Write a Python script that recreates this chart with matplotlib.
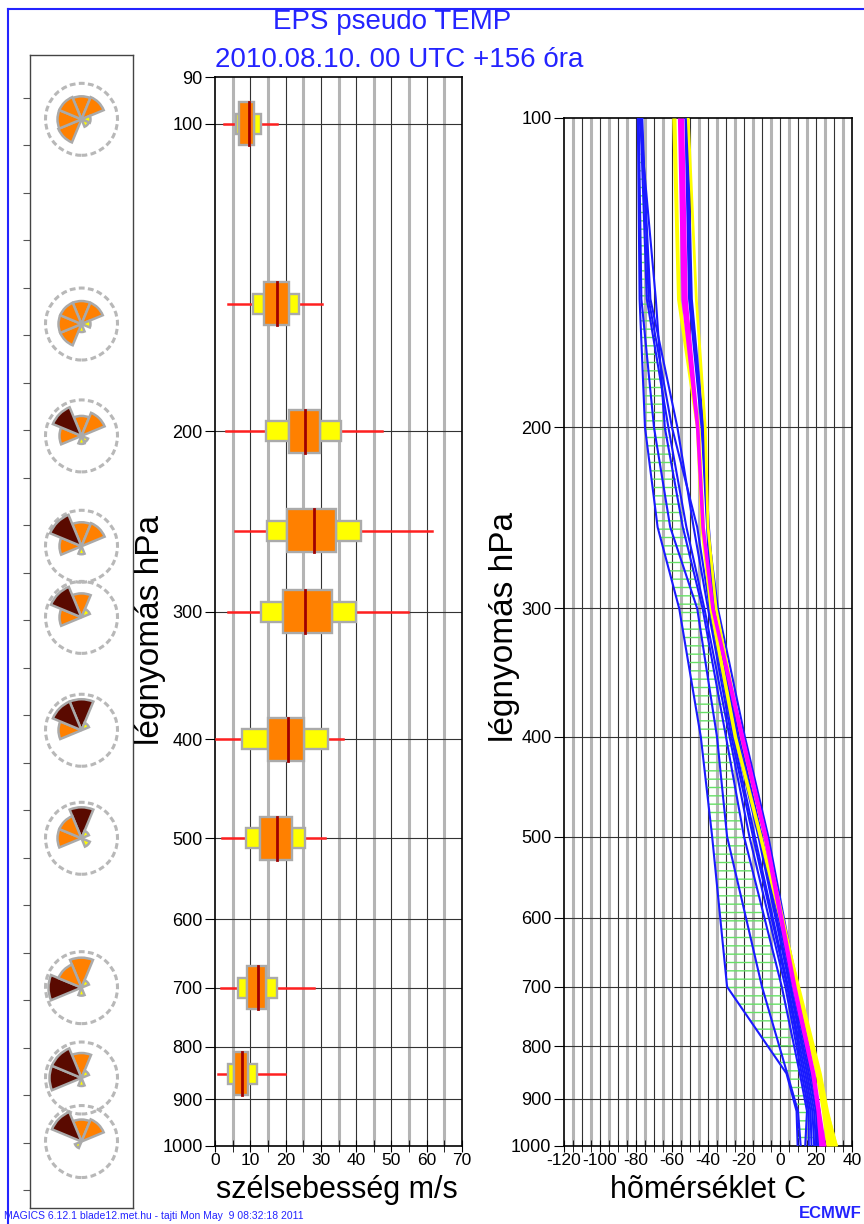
import numpy as np
import matplotlib.pyplot as plt
from matplotlib.patches import Rectangle, Wedge, Circle
from matplotlib.lines import Line2D

plt.rcParams['font.family'] = ['Liberation Sans', 'DejaVu Sans']
plt.rcParams['hatch.linewidth'] = 1.0
plt.rcParams['axes.unicode_minus'] = False

# --- wind roses (left panel) ---
rose_levels = [99, 157, 202, 259, 304, 392, 500, 700, 858, 990]
rose_dirs = [0, 45, 90, 135, 180, 225, 270, 315]   # N NE E SE S SW W NW
rose_len = [
    [23, 24, 9, 8, 0, 25, 24, 24],
    [23, 23, 9, 0, 8, 23, 23, 23],
    [20, 25, 0, 7, 8, 0, 22, 31],
    [24, 25, 0, 0, 8, 0, 22, 34],
    [24, 9, 0, 0, 0, 0, 22, 33],
    [31, 8, 0, 0, 0, 0, 23, 31],
    [31, 8, 0, 9, 0, 0, 24, 24],
    [30, 8, 0, 0, 8, 0, 33, 25],
    [25, 8, 0, 0, 8, 0, 32, 32],
    [22, 24, 0, 0, 0, 7, 0, 32],
]
rose_cls = ['ooyy-ooo', 'ooy-yooo', 'oo-yy-ob', 'oo--y-ob', 'oy----ob',
            'by----ob', 'by-y--oo', 'oy--y-bo', 'oy--y-bb', 'oo---y-b']
rose_ring = 36

# --- wind speed quantiles (middle panel) ---
wind_levels = [100, 150, 200, 250, 300, 400, 500, 700, 850]
w_min = [2.5, 3.7, 3.0, 5.7, 3.6, 0.3, 2.0, 1.6, 0.8]
w_p10 = [5.9, 10.8, 14.5, 14.8, 12.9, 7.7, 8.8, 6.5, 3.7]
w_p25 = [6.9, 13.9, 21.1, 20.4, 19.4, 15.0, 12.8, 9.0, 5.4]
w_med = [9.6, 17.5, 25.6, 28.0, 25.6, 20.8, 17.5, 12.2, 7.6]
w_p75 = [11.1, 21.0, 29.8, 34.2, 33.2, 25.2, 21.8, 14.5, 9.4]
w_p90 = [13.0, 23.8, 35.7, 41.4, 40.1, 32.0, 25.5, 17.5, 11.8]
w_max = [17.5, 30.3, 47.2, 61.4, 54.8, 36.3, 31.2, 28.0, 19.8]

# --- temperature profiles (right panel) ---
t_levels = [100, 150, 200, 250, 300, 400, 500, 700, 850, 925, 1000]
t_members = [
    [-79.0, -78.0, -75.0, -68.0, -56.0, -44.0, -37.7, -29.4, 3.6, 9.2, 9.8],
    [-78.5, -77.0, -70.0, -61.0, -46.0, -35.0, -29.4, -10.0, 4.0, 10.0, 11.5],
    [-78.0, -69.0, -64.0, -54.0, -43.0, -30.0, -20.0, 1.0, 11.0, 15.0, 14.0],
    [-77.5, -74.0, -62.0, -52.0, -42.0, -28.0, -17.0, 3.0, 12.0, 16.0, 16.0],
    [-77.0, -72.0, -57.0, -48.0, -40.0, -27.0, -15.0, 4.0, 13.0, 17.0, 17.5],
    [-76.5, -73.0, -60.0, -46.0, -39.0, -26.0, -14.0, 4.5, 14.0, 18.0, 19.0],
    [-52.5, -50.5, -43.5, -40.5, -38.0, -25.0, -12.0, 5.5, 15.0, 19.0, 20.0],
    [-52.0, -49.5, -43.0, -40.0, -37.0, -23.5, -11.0, 6.0, 16.0, 20.0, 21.0],
    [-51.5, -49.0, -42.5, -39.5, -36.0, -22.5, -10.0, 7.0, 17.0, 21.0, 22.0],
    [-52.2, -50.0, -43.2, -40.2, -34.5, -19.5, -6.5, 9.5, 18.5, 22.0, 21.0],
]
hatch_hi = [-79, -72, -63, -53, -44, -28, -21, 2, 11, 16, 19]
mag_lo = [-57, -55, -47, -44, -38.5, -22.5, -9.5, 6.5, 17, 20, 21.5]
mag_hi = [-53.5, -51.5, -45, -42, -36.5, -20, -7, 9, 19.5, 22.5, 25.5]
yel_lo = [-60.2, -57.5, -47.0, -44.5, -39.5, -26, -12, 8.5, 19.5, 23, 25.5]
yel_hi = [-57.8, -55.5, -44.5, -42, -37.5, -24, -10, 11, 23, 27, 31.8]
yel_line = [-51.0, -46.5, -41.5, -40.0, -35.5, -21.5, -8.5, 10.0, 21.0, 26.0, 31.5]

p_ticks = [100, 200, 300, 400, 500, 600, 700, 800, 900, 1000]

W, H = 864, 1224
BLUE = '#2424ff'
GRAY = '#b4b4b4'
EDGE = '#aaaaaa'
COLS = {'y': '#ffff00', 'o': '#ff8000', 'b': '#5a0a00'}


def fbox(x0, y0, x1, y1):
    return [x0 / W, 1 - y1 / H, (x1 - x0) / W, (y1 - y0) / H]


fig = plt.figure(figsize=(W / 100, H / 100), dpi=100)
ax_r = fig.add_axes(fbox(30, 55, 133, 1208))
ax_w = fig.add_axes(fbox(215, 77, 462, 1146))
ax_t = fig.add_axes(fbox(564, 118, 852, 1146))

# ln(p) units per pixel, shared by all panels
k = np.log(1000 / 90) / (1146 - 77)

# ---- left panel: roses ----
ax_r.set_xlim(0, 103 * k)
ax_r.set_ylim(-(np.log(1000) + (1208 - 1146) * k), -(np.log(90) - (77 - 55) * k))
cx = 51.5 * k
for lev, lens, cls in zip(rose_levels, rose_len, rose_cls):
    cy = -np.log(lev)
    ax_r.add_patch(Circle((cx, cy), rose_ring * k, fill=False, ec='#b8b8b8', lw=2.2,
                          ls=(0, (1.9, 1.1))))
    for d, ln_, c in zip(rose_dirs, lens, cls):
        if c == '-':
            continue
        th = 90 - d
        ax_r.add_patch(Wedge((cx, cy), ln_ * k, th - 22.5, th + 22.5,
                             fc=COLS[c], ec=EDGE, lw=1.8))
ax_r.set_xticks([])
tick_px = np.linspace(98, 1190, 24)
ax_r.set_yticks(-(np.log(90) + (tick_px - 77) * k))
ax_r.set_yticklabels([])
ax_r.tick_params(axis='y', direction='out', length=5, color='#555555')
for s in ax_r.spines.values():
    s.set_color('#444444')
    s.set_linewidth(1)

# ---- middle panel: wind speed ----
ax_w.set_yscale('log')
ax_w.set_ylim(1000, 90)
ax_w.set_xlim(0, 70)
ax_w.set_yticks([90] + p_ticks)
ax_w.set_yticklabels([str(p) for p in [90] + p_ticks])
ax_w.yaxis.set_minor_locator(plt.NullLocator())
ax_w.set_xticks(np.arange(0, 71, 10))
ax_w.set_xticks(np.arange(0, 71, 5), minor=True)
ax_w.tick_params(axis='y', direction='out', length=7, labelsize=13, pad=2)
ax_w.tick_params(axis='x', which='both', direction='inout', length=8, labelsize=12.5, pad=1)
for x in range(5, 70, 10):
    ax_w.axvline(x, color=GRAY, lw=2.2, zorder=1)
for x in range(10, 70, 10):
    ax_w.axvline(x, color='#333333', lw=0.8, zorder=1)
for p in p_ticks[:-1]:
    ax_w.axhline(p, color='#333333', lw=0.8, zorder=1)

fo = np.exp(21.5 * k)
fy = np.exp(10 * k)
for i, p in enumerate(wind_levels):
    ax_w.plot([w_min[i], w_max[i]], [p, p], color='#ff2020', lw=1.8, zorder=3)
    for a, b in [(w_p10[i], w_p25[i]), (w_p75[i], w_p90[i])]:
        ax_w.add_patch(Rectangle((a, p / fy), b - a, p * fy - p / fy,
                                 fc='#ffff00', ec=EDGE, lw=1.7, zorder=4))
    ax_w.add_patch(Rectangle((w_p25[i], p / fo), w_p75[i] - w_p25[i], p * fo - p / fo,
                             fc='#ff8000', ec=EDGE, lw=1.7, zorder=5))
    ax_w.plot([w_med[i], w_med[i]], [p / fo, p * fo], color='#a00000', lw=2, zorder=6)
for s in ax_w.spines.values():
    s.set_linewidth(1.2)

# ---- right panel: temperature ----
ax_t.set_yscale('log')
ax_t.set_ylim(1000, 100)
ax_t.set_xlim(-120, 40)
ax_t.set_yticks(p_ticks)
ax_t.set_yticklabels([str(p) for p in p_ticks])
ax_t.yaxis.set_minor_locator(plt.NullLocator())
ax_t.set_xticks(np.arange(-120, 41, 20))
ax_t.set_xticks(np.arange(-120, 41, 5), minor=True)
ax_t.tick_params(axis='y', direction='out', length=7, labelsize=13, pad=2)
ax_t.tick_params(axis='x', which='both', direction='inout', length=8, labelsize=12.5, pad=1)
for x in range(-115, 40, 10):
    ax_t.axvline(x, color=GRAY, lw=2.2, zorder=1)
for x in range(-110, 40, 10):
    ax_t.axvline(x, color='#333333', lw=0.8, zorder=1)
for p in p_ticks[1:-1]:
    ax_t.axhline(p, color='#333333', lw=0.8, zorder=1)

ax_t.fill_betweenx(t_levels, t_members[0], hatch_hi, facecolor='none',
                   edgecolor='#66e066', hatch='--', lw=0, zorder=2)
for m in t_members:
    ax_t.plot(m, t_levels, color='#1a1aff', lw=1.5, zorder=4)
ax_t.plot(yel_line, t_levels, color='#ffff00', lw=2, zorder=4.5)
ax_t.fill_betweenx(t_levels, yel_lo, yel_hi, color='#ffff00', lw=0, zorder=5)
ax_t.fill_betweenx(t_levels, mag_lo, mag_hi, color='#ff00ff', lw=0, zorder=5)
for s in ax_t.spines.values():
    s.set_linewidth(1.2)

# ---- texts ----
fig.text(392 / W, 1 - 22 / H, 'EPS pseudo TEMP', color=BLUE, fontsize=20,
         ha='center', va='center')
fig.text(399 / W, 1 - 60 / H, '2010.08.10. 00 UTC +156 óra', color=BLUE, fontsize=20,
         ha='center', va='center')
fig.text(337 / W, 1 - 1190 / H, 'szélsebesség m/s', fontsize=22, ha='center', va='center')
fig.text(708 / W, 1 - 1190 / H, 'hõmérséklet C', fontsize=22, ha='center', va='center')
fig.text(150 / W, 1 - 630 / H, 'légnyomás hPa', fontsize=24, rotation=90,
         ha='center', va='center')
fig.text(505 / W, 1 - 627 / H, 'légnyomás hPa', fontsize=24, rotation=90,
         ha='center', va='center')
fig.text(4 / W, 1 - 1216 / H, 'MAGICS 6.12.1 blade12.met.hu - tajti Mon May  9 08:32:18 2011',
         color=BLUE, fontsize=7.5, ha='left', va='center')
fig.text(862 / W, 1 - 1213 / H, 'ECMWF', color=BLUE, fontsize=12, fontweight='bold',
         ha='right', va='center')

# blue outer frame
fig.add_artist(Line2D([8 / W, 8 / W], [0, 1 - 9 / H], color=BLUE, lw=1.5))
fig.add_artist(Line2D([8 / W, 1], [1 - 9 / H, 1 - 9 / H], color=BLUE, lw=1.5))

fig.savefig('out.png', dpi=100)
